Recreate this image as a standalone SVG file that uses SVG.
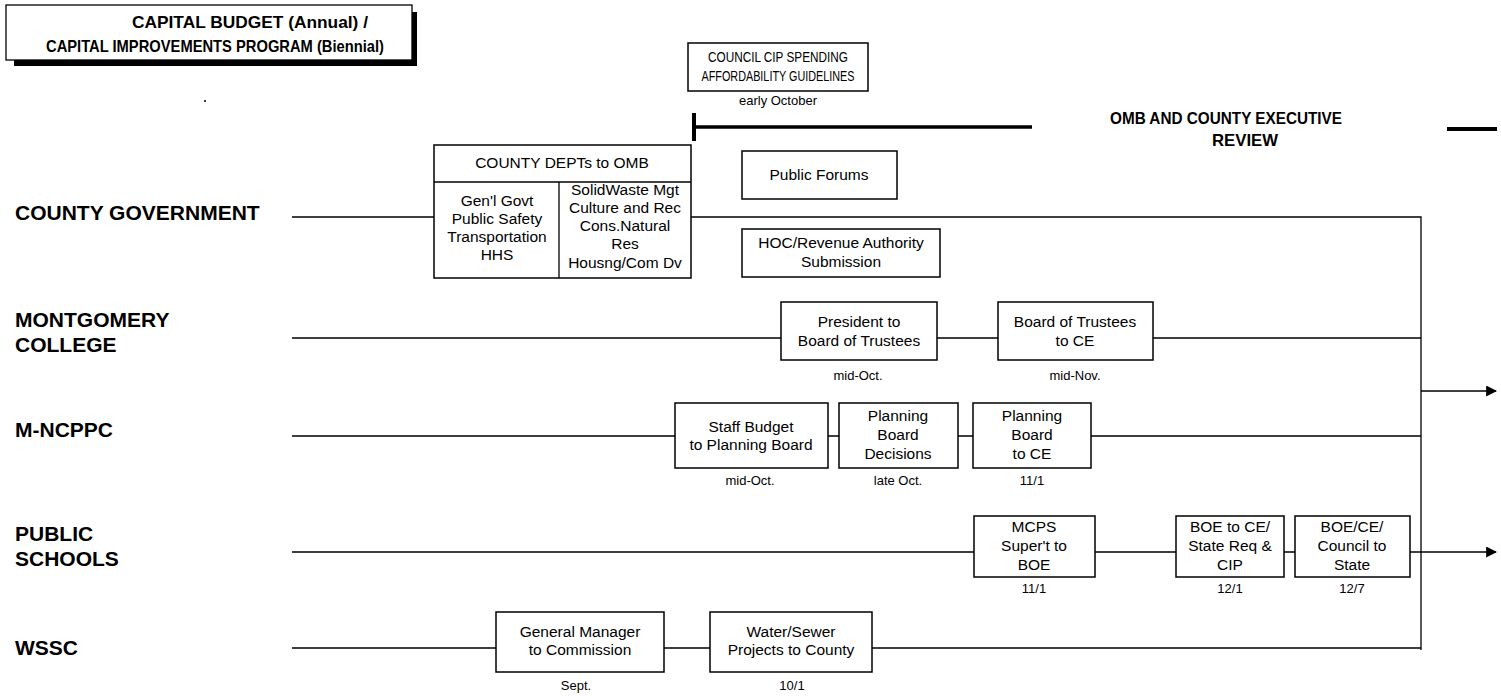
<svg xmlns="http://www.w3.org/2000/svg" width="1501" height="696" viewBox="0 0 1501 696">
<defs>
<style>
.box{fill:#fff;stroke:#000;stroke-width:1.5}
.ln{stroke:#000;stroke-width:1.3;fill:none}
.t{font-family:"Liberation Sans",Arial,sans-serif;font-size:15.5px;text-anchor:middle;fill:#000}
.d{font-family:"Liberation Sans",Arial,sans-serif;font-size:13px;text-anchor:middle;fill:#000}
.lbl{font-family:"Liberation Sans",Arial,sans-serif;font-size:21px;font-weight:bold;fill:#000}
.hd{font-family:"Liberation Sans",Arial,sans-serif;font-size:16.5px;font-weight:bold;text-anchor:middle;fill:#000}
</style>
<marker id="ah" viewBox="0 0 10 10" refX="9" refY="5" markerWidth="11" markerHeight="11" markerUnits="userSpaceOnUse" orient="auto">
<path d="M0,0 L10,5 L0,10 z" fill="#000"/>
</marker>
</defs>
<rect width="1501" height="696" fill="#fff"/>

<g id="title">
<rect x="14" y="60" width="403" height="6" fill="#000"/>
<rect x="412" y="12" width="5" height="54" fill="#000"/>
<rect x="6" y="5" width="406" height="55" fill="#fff" stroke="#000" stroke-width="1.3"/>
<text class="hd" x="250" y="28" textLength="236" lengthAdjust="spacingAndGlyphs">CAPITAL BUDGET (Annual) /</text>
<text class="hd" x="215" y="52" textLength="338" lengthAdjust="spacingAndGlyphs">CAPITAL IMPROVEMENTS PROGRAM (Biennial)</text>
<circle cx="205" cy="101" r="1" fill="#000"/>
</g>

<g id="row-labels">
<text class="lbl" x="15" y="220">COUNTY GOVERNMENT</text>
<text class="lbl" x="15" y="327">MONTGOMERY</text>
<text class="lbl" x="15" y="352">COLLEGE</text>
<text class="lbl" x="15" y="437">M-NCPPC</text>
<text class="lbl" x="15" y="541">PUBLIC</text>
<text class="lbl" x="15" y="566">SCHOOLS</text>
<text class="lbl" x="15" y="655">WSSC</text>
</g>

<g id="connectors">
<path class="ln" d="M292,217 H434 M691,217 H1421 V650"/>
<path class="ln" d="M292,338 H781 M937,338 H998 M1153,338 H1421"/>
<path class="ln" d="M292,436 H675 M828,436 H839 M958,436 H973 M1091,436 H1421"/>
<path class="ln" d="M292,552 H974 M1095,552 H1176 M1284,552 H1295"/>
<path class="ln" d="M292,648 H496 M664,648 H710 M872,648 H1421"/>
<path class="ln" d="M1421,391 H1496" marker-end="url(#ah)"/>
<path class="ln" d="M1410,552 H1496" marker-end="url(#ah)"/>
</g>

<g id="council-guidelines">
<rect class="box" x="688" y="43" width="180" height="48"/>
<text class="t" x="778" y="62" font-size="14" textLength="140" lengthAdjust="spacingAndGlyphs">COUNCIL CIP SPENDING</text>
<text class="t" x="778" y="81" font-size="14" textLength="153" lengthAdjust="spacingAndGlyphs">AFFORDABILITY GUIDELINES</text>
<text class="d" x="778" y="105" font-size="11.5">early October</text>
</g>

<g id="omb-review">
<line x1="694" y1="113" x2="694" y2="141" stroke="#000" stroke-width="4"/>
<line x1="694" y1="127" x2="1032" y2="127" stroke="#000" stroke-width="3.5"/>
<line x1="1447" y1="129" x2="1497" y2="129" stroke="#000" stroke-width="4"/>
<text class="hd" x="1226" y="124" font-size="16" textLength="232" lengthAdjust="spacingAndGlyphs">OMB AND COUNTY EXECUTIVE</text>
<text class="hd" x="1245" y="146" font-size="16" textLength="66" lengthAdjust="spacingAndGlyphs">REVIEW</text>
</g>

<g id="county-depts">
<rect class="box" x="434" y="145" width="257" height="133"/>
<line class="ln" x1="434" y1="182" x2="691" y2="182"/>
<line class="ln" x1="559" y1="182" x2="559" y2="278"/>
<text class="t" x="562" y="168">COUNTY DEPTs to OMB</text>
<text class="t" x="497" y="206">Gen'l Govt</text>
<text class="t" x="497" y="224">Public Safety</text>
<text class="t" x="497" y="242">Transportation</text>
<text class="t" x="497" y="260">HHS</text>
<text class="t" x="625" y="195">SolidWaste Mgt</text>
<text class="t" x="625" y="213">Culture and Rec</text>
<text class="t" x="625" y="231">Cons.Natural</text>
<text class="t" x="625" y="249">Res</text>
<text class="t" x="625" y="268">Housng/Com Dv</text>
</g>

<g id="public-forums">
<rect class="box" x="742" y="151" width="155" height="48"/>
<text class="t" x="819" y="180">Public Forums</text>
</g>

<g id="hoc-revenue">
<rect class="box" x="742" y="229" width="198" height="48"/>
<text class="t" x="841" y="248">HOC/Revenue Authority</text>
<text class="t" x="841" y="267">Submission</text>
</g>

<g id="mc-president">
<rect class="box" x="781" y="302" width="156" height="58"/>
<text class="t" x="859" y="327">President to</text>
<text class="t" x="859" y="346">Board of Trustees</text>
<text class="d" x="858" y="380">mid-Oct.</text>
</g>

<g id="mc-trustees">
<rect class="box" x="998" y="302" width="155" height="58"/>
<text class="t" x="1075" y="327">Board of Trustees</text>
<text class="t" x="1075" y="346">to CE</text>
<text class="d" x="1075" y="380">mid-Nov.</text>
</g>

<g id="mncppc-staff">
<rect class="box" x="675" y="403" width="153" height="65"/>
<text class="t" x="751" y="432">Staff Budget</text>
<text class="t" x="751" y="450">to Planning Board</text>
<text class="d" x="750" y="485">mid-Oct.</text>
</g>

<g id="mncppc-decisions">
<rect class="box" x="839" y="403" width="119" height="65"/>
<text class="t" x="898" y="421">Planning</text>
<text class="t" x="898" y="440">Board</text>
<text class="t" x="898" y="459">Decisions</text>
<text class="d" x="898" y="485">late Oct.</text>
</g>

<g id="mncppc-to-ce">
<rect class="box" x="973" y="403" width="118" height="65"/>
<text class="t" x="1032" y="421">Planning</text>
<text class="t" x="1032" y="440">Board</text>
<text class="t" x="1032" y="459">to CE</text>
<text class="d" x="1032" y="485">11/1</text>
</g>

<g id="mcps-super">
<rect class="box" x="974" y="516" width="121" height="61"/>
<text class="t" x="1034" y="532">MCPS</text>
<text class="t" x="1034" y="551">Super't to</text>
<text class="t" x="1034" y="570">BOE</text>
<text class="d" x="1034" y="593">11/1</text>
</g>

<g id="boe-to-ce">
<rect class="box" x="1176" y="516" width="108" height="61"/>
<text class="t" x="1230" y="532">BOE to CE/</text>
<text class="t" x="1230" y="551">State Req &amp;</text>
<text class="t" x="1230" y="570">CIP</text>
<text class="d" x="1230" y="593">12/1</text>
</g>

<g id="boe-ce-council">
<rect class="box" x="1295" y="516" width="115" height="61"/>
<text class="t" x="1352" y="532">BOE/CE/</text>
<text class="t" x="1352" y="551">Council to</text>
<text class="t" x="1352" y="570">State</text>
<text class="d" x="1352" y="593">12/7</text>
</g>

<g id="wssc-gm">
<rect class="box" x="496" y="612" width="168" height="60"/>
<text class="t" x="580" y="637">General Manager</text>
<text class="t" x="580" y="655">to Commission</text>
<text class="d" x="576" y="690">Sept.</text>
</g>

<g id="wssc-projects">
<rect class="box" x="710" y="612" width="162" height="60"/>
<text class="t" x="791" y="637">Water/Sewer</text>
<text class="t" x="791" y="655">Projects to County</text>
<text class="d" x="792" y="690">10/1</text>
</g>
</svg>
